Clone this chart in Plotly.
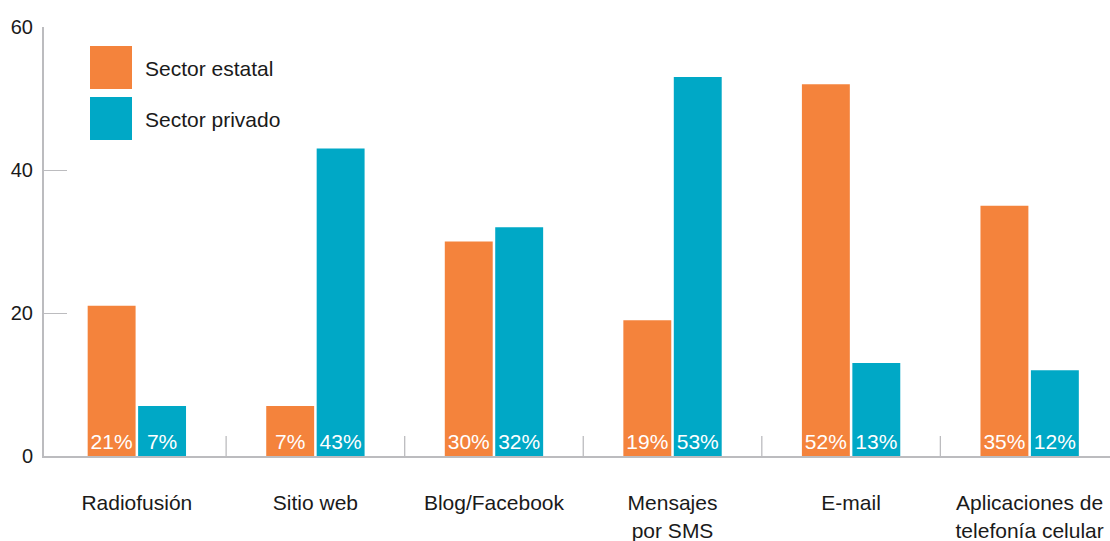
import plotly.graph_objects as go

# Canales de comunicación utilizados, por sector (%)
categorias = ["Radiofusión", "Sitio web", "Blog/Facebook", "Mensajes<br>por SMS",
              "E-mail", "Aplicaciones de<br>telefonía celular"]
sector_estatal = [21, 7, 30, 19, 52, 35]
sector_privado = [7, 43, 32, 53, 13, 12]
series_nombres = ["Sector estatal", "Sector privado"]
colores = ["#F4833C", "#00A8C6"]
y_ticks = [0, 20, 40, 60]

W, H = 1110, 541
ML, MR, MT, MB = 44, 0, 27, 85
plot_w = W - ML - MR
plot_h = H - MT - MB

FONT = "Liberation Sans, Arial, sans-serif"
GRIS = "#bcbcbf"

fig = go.Figure()
for nombre, valores, color in zip(series_nombres, [sector_estatal, sector_privado], colores):
    fig.add_trace(go.Bar(
        x=categorias, y=valores, name=nombre,
        marker=dict(color=color, line=dict(width=0)),
        text=[f"{v}%" for v in valores],
        textposition="inside", insidetextanchor="start",
        textangle=0, constraintext="none",
        textfont=dict(color="white", size=21, family=FONT),
        showlegend=False,
    ))

# Separadores cortos entre categorías
shapes = []
for i in range(len(categorias) - 1):
    shapes.append(dict(type="line", xref="x", yref="y",
                       x0=i + 0.5, x1=i + 0.5, y0=0, y1=2.8,
                       line=dict(color=GRIS, width=1.3)))

# Leyenda con cuadros grandes
def px_x(px):
    return (px - ML) / plot_w

def px_y(py):
    return 1 - (py - MT) / plot_h

annotations = []
for k, (nombre, color) in enumerate(zip(series_nombres, colores)):
    top = 46 + k * 51
    shapes.append(dict(type="rect", xref="paper", yref="paper",
                       x0=px_x(90), x1=px_x(132), y0=px_y(top + 43), y1=px_y(top),
                       fillcolor=color, line=dict(width=0)))
    annotations.append(dict(xref="paper", yref="paper", x=px_x(143), y=px_y(top + 22),
                            text=nombre, showarrow=False, xanchor="left", yanchor="middle",
                            font=dict(size=21, color="#1a1a1a", family=FONT)))

fig.update_layout(
    width=W, height=H,
    margin=dict(l=ML, r=MR, t=MT, b=MB, pad=0, autoexpand=False),
    paper_bgcolor="white", plot_bgcolor="white",
    barmode="group", bargap=0.435, bargroupgap=0.05,
    font=dict(family=FONT, color="#1a1a1a", size=20),
    shapes=shapes, annotations=annotations,
    xaxis=dict(
        type="category", range=[-0.52, 5.45], automargin=False,
        showline=True, linecolor=GRIS, linewidth=2,
        showgrid=False, zeroline=False, ticks="",
        tickfont=dict(size=21, color="#1a1a1a", family=FONT),
        ticklabelstandoff=27, ticklabeloverflow="allow",
    ),
    yaxis=dict(
        range=[0, 60], tickvals=y_ticks, automargin=False,
        showline=True, linecolor=GRIS, linewidth=2,
        showgrid=False, zeroline=False,
        ticks="inside", ticklen=23, tickwidth=1.3, tickcolor=GRIS,
        tickfont=dict(size=20, color="#1a1a1a", family=FONT),
        ticklabelstandoff=5,
    ),
)

fig.write_html("out.html")
